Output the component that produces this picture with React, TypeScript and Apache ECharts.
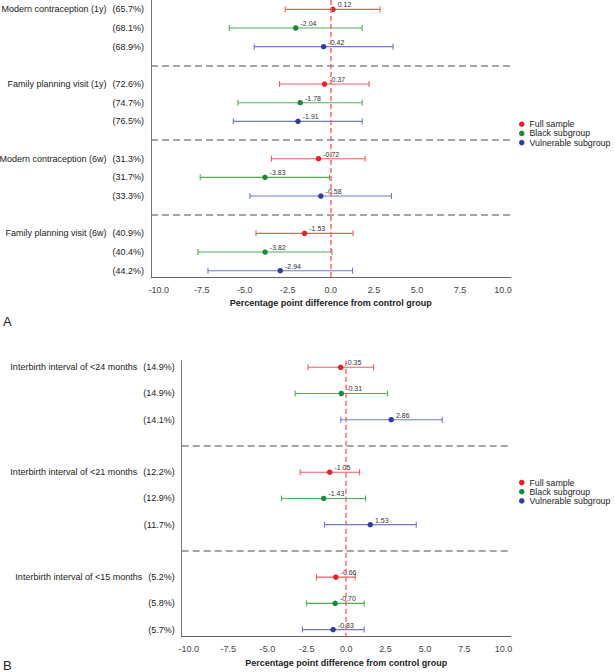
import React, { useEffect, useRef } from "react";
import * as echarts from "echarts";

// ---------- Panel A data ----------
const groupsA = [
  "Modern contraception (1y)",
  "Family planning visit (1y)",
  "Modern contraception (6w)",
  "Family planning visit (6w)",
];
const pctFullA = [65.7, 72.6, 31.3, 40.9];
const pctBlackA = [68.1, 74.7, 31.7, 40.4];
const pctVulnA = [68.9, 76.5, 33.3, 44.2];
const estFullA = [0.12, -0.37, -0.72, -1.53];
const lowFullA = [-2.65, -2.98, -3.45, -4.35];
const highFullA = [2.86, 2.22, 1.99, 1.29];
const estBlackA = [-2.04, -1.78, -3.83, -3.82];
const lowBlackA = [-5.9, -5.4, -7.59, -7.72];
const highBlackA = [1.82, 1.82, -0.08, 0.06];
const estVulnA = [-0.42, -1.91, -0.58, -2.94];
const lowVulnA = [-4.45, -5.67, -4.7, -7.14];
const highVulnA = [3.62, 1.82, 3.52, 1.26];

// ---------- Panel B data ----------
const groupsB = [
  "Interbirth interval of <24 months",
  "Interbirth interval of <21 months",
  "Interbirth interval of <15 months",
];
const pctFullB = [14.9, 12.2, 5.2];
const pctBlackB = [14.9, 12.9, 5.8];
const pctVulnB = [14.1, 11.7, 5.7];
const estFullB = [-0.35, -1.05, -0.66];
const lowFullB = [-2.42, -2.92, -1.89];
const highFullB = [1.74, 0.85, 0.57];
const estBlackB = [-0.31, -1.43, -0.7];
const lowBlackB = [-3.24, -4.11, -2.52];
const highBlackB = [2.63, 1.23, 1.14];
const estVulnB = [2.86, 1.53, -0.83];
const lowVulnB = [-0.34, -1.38, -2.78];
const highVulnB = [6.1, 4.45, 1.14];

const seriesNames = ["Full sample", "Black subgroup", "Vulnerable subgroup"];
const xTicks = [-10, -7.5, -5, -2.5, 0, 2.5, 5, 7.5, 10];
const xAxisTitle = "Percentage point difference from control group";

const pointColors = ["#e8202a", "#1f8a3c", "#2f3f9e"];
const barColors = ["#f25c5f", "#4cb254", "#6f78cf"];
const FONT = "Liberation Sans, Arial, Helvetica, sans-serif";

type Panel = {
  groups: string[];
  pct: number[][];
  est: number[][];
  low: number[][];
  high: number[][];
};

const panelA: Panel = {
  groups: groupsA,
  pct: [pctFullA, pctBlackA, pctVulnA],
  est: [estFullA, estBlackA, estVulnA],
  low: [lowFullA, lowBlackA, lowVulnA],
  high: [highFullA, highBlackA, highVulnA],
};
const panelB: Panel = {
  groups: groupsB,
  pct: [pctFullB, pctBlackB, pctVulnB],
  est: [estFullB, estBlackB, estVulnB],
  low: [lowFullB, lowBlackB, lowVulnB],
  high: [highFullB, highBlackB, highVulnB],
};

function rowPos(g: number, s: number) {
  return g * 4 + s + 1;
}

function buildAxes(panel: Panel, idx: number, yMin: number, yMax: number) {
  const labelMap: Record<number, { name: string; pct: string }> = {};
  const vals: number[] = [];
  panel.groups.forEach((gName, g) => {
    for (let s = 0; s < 3; s++) {
      const p = rowPos(g, s);
      vals.push(p);
      labelMap[p] = {
        name: s === 0 ? gName : "",
        pct: "(" + panel.pct[s][g].toFixed(1) + "%)",
      };
    }
  });
  const xAxis = {
    type: "value",
    gridIndex: idx,
    min: -10.45,
    max: 10.45,
    name: xAxisTitle,
    nameLocation: "middle",
    nameGap: idx === 0 ? 21 : 22,
    nameTextStyle: {
      fontSize: 9,
      fontWeight: "bold",
      color: "#222",
      fontFamily: FONT,
    },
    axisLine: { show: true, onZero: false, lineStyle: { color: "#666", width: 1 } },
    axisTick: { show: false },
    splitLine: { show: false },
    axisLabel: {
      customValues: xTicks,
      formatter: (v: number) => v.toFixed(1),
      fontSize: 9,
      color: "#444",
      margin: 8,
      fontFamily: FONT,
    },
  };
  const yAxis = {
    type: "value",
    gridIndex: idx,
    inverse: true,
    min: yMin,
    max: yMax,
    axisLine: { show: true, onZero: false, lineStyle: { color: "#777", width: 1 } },
    axisTick: { show: false },
    splitLine: { show: false },
    axisLabel: {
      customValues: vals,
      margin: 7,
      formatter: (v: number) => {
        const l = labelMap[Math.round(v)];
        if (!l) return "";
        return l.name ? "{n|" + l.name + "}{p|" + l.pct + "}" : "{p|" + l.pct + "}";
      },
      rich: {
        n: { fontSize: 9, color: "#222", fontFamily: FONT, padding: [0, 6, 0, 0] },
        p: { fontSize: 9, color: "#222", fontFamily: FONT },
      },
    },
  };
  return { xAxis, yAxis };
}

function buildSeries(panel: Panel, idx: number, seps: number[]) {
  const out: any[] = [];
  for (let s = 0; s < 3; s++) {
    const barData = panel.groups.map((_, g) => [
      rowPos(g, s),
      panel.low[s][g],
      panel.high[s][g],
    ]);
    const color = barColors[s];
    out.push({
      type: "custom",
      name: seriesNames[s],
      xAxisIndex: idx,
      yAxisIndex: idx,
      z: 2,
      silent: true,
      encode: { x: [1, 2], y: 0 },
      data: barData,
      renderItem: (params: any, api: any) => {
        const y = api.value(0);
        const p1 = api.coord([api.value(1), y]);
        const p2 = api.coord([api.value(2), y]);
        const h = 3;
        const st = { stroke: color, lineWidth: 1.1 };
        return {
          type: "group",
          children: [
            { type: "line", shape: { x1: p1[0], y1: p1[1], x2: p2[0], y2: p2[1] }, style: st },
            { type: "line", shape: { x1: p1[0], y1: p1[1] - h, x2: p1[0], y2: p1[1] + h }, style: st },
            { type: "line", shape: { x1: p2[0], y1: p2[1] - h, x2: p2[0], y2: p2[1] + h }, style: st },
          ],
        };
      },
    });
  }
  for (let s = 0; s < 3; s++) {
    const ptData = panel.groups.map((_, g) => [panel.est[s][g], rowPos(g, s)]);
    const ser: any = {
      type: "scatter",
      name: seriesNames[s],
      xAxisIndex: idx,
      yAxisIndex: idx,
      z: 3,
      symbol: "circle",
      symbolSize: 5.5,
      itemStyle: { color: pointColors[s], opacity: 1, borderWidth: 0 },
      data: ptData,
      label: {
        show: true,
        position: "right",
        distance: 2,
        offset: [0, -4.5],
        fontSize: 7,
        color: "#333",
        fontFamily: FONT,
        formatter: (p: any) => p.value[0].toFixed(2),
      },
    };
    if (s === 0) {
      ser.markLine = {
        silent: true,
        symbol: ["none", "none"],
        label: { show: false },
        animation: false,
        data: [
          {
            xAxis: 0,
            lineStyle: { color: "#ff6b6b", width: 1.5, type: [5, 3] },
          },
          ...seps.map((v) => ({
            yAxis: v,
            lineStyle: { color: "#888", width: 1.5, type: [7, 4] },
          })),
        ],
      };
    }
    out.push(ser);
  }
  return out;
}

export default function App() {
  const ref = useRef<HTMLDivElement>(null);
  useEffect(() => {
    if (!ref.current) return;
    const chart = echarts.init(ref.current, null, { renderer: "svg" });
    const axA = buildAxes(panelA, 0, 0.5, 15.375);
    const axB = buildAxes(panelB, 1, 0.75, 11.27);
    const legendData = seriesNames.map((n, i) => ({
      name: n,
      itemStyle: { color: pointColors[i] },
    }));
    const legendBase = {
      orient: "vertical",
      left: 519,
      icon: "circle",
      itemWidth: 5.5,
      itemHeight: 14,
      itemGap: 0.2,
      selectedMode: false,
      padding: 0,
      textStyle: { fontSize: 8.8, color: "#222", fontFamily: FONT },
      data: legendData,
    };
    const option: any = {
      animation: false,
      backgroundColor: "#ffffff",
      textStyle: { fontFamily: FONT },
      grid: [
        { left: 151, top: 0, width: 359.7, height: 277.7, outerBoundsMode: "none", containLabel: false },
        { left: 181.7, top: 360.7, width: 329, height: 276, outerBoundsMode: "none", containLabel: false },
      ],
      xAxis: [axA.xAxis, axB.xAxis],
      yAxis: [axA.yAxis, axB.yAxis],
      legend: [
        { ...legendBase, top: 119.7 },
        { ...legendBase, top: 478 },
      ],
      graphic: [
        { type: "text", left: 3, top: 315, style: { text: "A", fontSize: 13, fill: "#222", fontFamily: FONT } },
        { type: "text", left: 3, top: 658.5, style: { text: "B", fontSize: 13, fill: "#222", fontFamily: FONT } },
      ],
      series: [...buildSeries(panelA, 0, [4, 8, 12]), ...buildSeries(panelB, 1, [4, 8])],
    };
    chart.setOption(option);
    return () => chart.dispose();
  }, []);
  return (
    <div
      ref={ref}
      style={{ position: "absolute", left: 0, top: 0, width: 615, height: 672 }}
    />
  );
}
